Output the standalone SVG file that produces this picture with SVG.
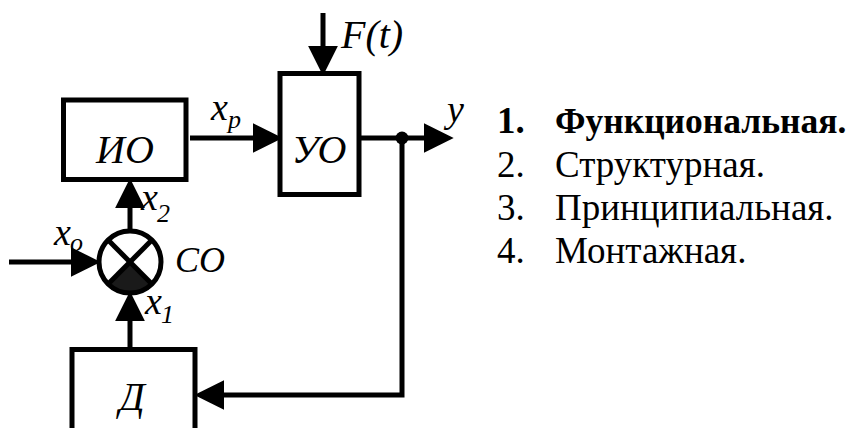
<svg xmlns="http://www.w3.org/2000/svg" width="856" height="428" viewBox="0 0 856 428">
<style>
.box{fill:#fff;stroke:#000;stroke-width:5}
.ln{fill:none;stroke:#000;stroke-width:5}
.lbl{font-family:'Liberation Serif','DejaVu Serif',serif;font-style:italic;fill:#000}
.big{font-size:40px}
.mid{font-size:38px}
.sub{font-size:26px}
.list{font-family:'Liberation Serif','DejaVu Serif',serif;font-size:37px;fill:#000}
</style>
<defs>
<marker id="ah" markerUnits="userSpaceOnUse" markerWidth="30" markerHeight="30" refX="2" refY="13" orient="auto" viewBox="0 0 26 26">
<path d="M0,0 L26,13 L0,26 Z" fill="#000"/>
</marker>
</defs>
<rect width="856" height="428" fill="#fff"/>
<g id="connectors">
<line class="ln" x1="323" y1="13" x2="323" y2="48" marker-end="url(#ah)"/>
<line class="ln" x1="190" y1="138" x2="255" y2="138" marker-end="url(#ah)"/>
<line class="ln" x1="361" y1="138" x2="426" y2="138" marker-end="url(#ah)"/>
<path class="ln" d="M402,138 V395 H222" marker-end="url(#ah)"/>
<line class="ln" x1="9" y1="262" x2="73" y2="262" marker-end="url(#ah)"/>
<line class="ln" x1="130" y1="347" x2="130" y2="319" marker-end="url(#ah)"/>
<line class="ln" x1="130" y1="229" x2="130" y2="206" marker-end="url(#ah)"/>
<circle cx="402" cy="138" r="6.5" fill="#000"/>
</g>
<g id="IO">
<rect class="box" x="63.5" y="100" width="122.5" height="79.5"/>
<text class="lbl big" x="125" y="163" text-anchor="middle">ИО</text>
</g>
<g id="UO">
<rect class="box" x="280" y="73.5" width="79" height="121"/>
<text class="lbl big" x="319" y="163" text-anchor="middle">УО</text>
</g>
<g id="D">
<rect class="box" x="72" y="349.5" width="123" height="100"/>
<text class="lbl big" x="132" y="410" text-anchor="middle">Д</text>
</g>
<g id="CO">
<path d="M130,262 L151.9,283.9 A31,31 0 0,1 108.1,283.9 Z" fill="#1a1a1a"/>
<circle cx="130" cy="262" r="31" fill="none" stroke="#000" stroke-width="5"/>
<line class="ln" x1="108.1" y1="240.1" x2="151.9" y2="283.9"/>
<line class="ln" x1="151.9" y1="240.1" x2="108.1" y2="283.9"/>
<text class="lbl" style="font-size:36px" x="175" y="272">СО</text>
</g>
<g id="labels">
<text class="lbl big" x="341" y="48">F(t)</text>
<text class="lbl mid" x="447" y="122">y</text>
<text class="lbl mid" x="211" y="120">x</text>
<text class="lbl sub" x="228" y="128">p</text>
<text class="lbl mid" x="54" y="245">x</text>
<text class="lbl sub" x="70" y="251">o</text>
<text class="lbl mid" x="141" y="210">x</text>
<text class="lbl sub" x="157" y="222">2</text>
<text class="lbl mid" x="145" y="314">x</text>
<text class="lbl sub" x="161" y="323">1</text>
</g>
<g id="list">
<text class="list" x="497" y="133" font-weight="bold">1.</text>
<text class="list" x="555" y="133" font-weight="bold" style="font-size:35.5px">Функциональная.</text>
<text class="list" x="497" y="177">2.</text>
<text class="list" x="555" y="177">Структурная.</text>
<text class="list" x="497" y="220">3.</text>
<text class="list" x="555" y="220">Принципиальная.</text>
<text class="list" x="497" y="263">4.</text>
<text class="list" x="555" y="263">Монтажная.</text>
</g>
</svg>
